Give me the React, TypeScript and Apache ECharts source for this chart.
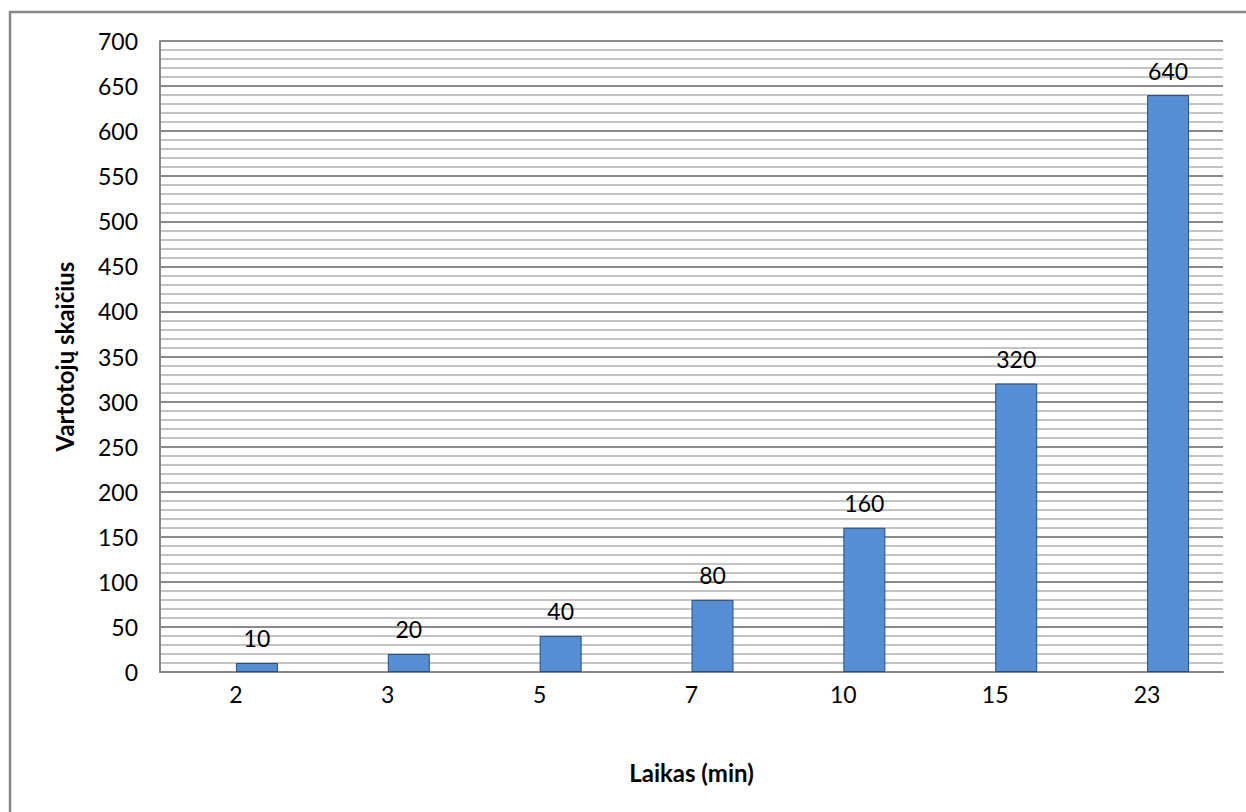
import React, { useEffect, useRef } from "react";
import * as echarts from "echarts";

const categories = ["2", "3", "5", "7", "10", "15", "23"];
const users = [10, 20, 40, 80, 160, 320, 640];
const yTicks = { min: 0, max: 700, interval: 50 };
const xName = "Laikas (min)";
const yName = "Vartotojų skaičius";

const FONT = "Lato, 'Open Sans', sans-serif";

export default function App() {
  const ref = useRef<HTMLDivElement>(null);
  useEffect(() => {
    if (!ref.current) return;
    const chart = echarts.init(ref.current, undefined, { renderer: "svg" });
    chart.setOption({
      animation: false,
      backgroundColor: "#ffffff",
      textStyle: { fontFamily: FONT, color: "#000" },
      graphic: [
        {
          type: "rect",
          shape: { x: 10, y: 12, width: 1300, height: 900 },
          style: { fill: "none", stroke: "#878787", lineWidth: 2.5 },
          silent: true,
          z: -1,
        },
      ],
      grid: { left: 160, right: 23, top: 41, bottom: 140, containLabel: false },
      xAxis: {
        type: "category",
        data: categories,
        name: xName,
        nameLocation: "middle",
        nameGap: 88,
        nameTextStyle: { fontFamily: FONT, fontSize: 24, fontWeight: "bold", color: "#000" },
        axisLine: { lineStyle: { color: "#878787", width: 2 } },
        axisTick: { show: false },
        axisLabel: { fontFamily: FONT, fontSize: 23, color: "#000", margin: 10 },
        splitLine: { show: false },
      },
      yAxis: {
        type: "value",
        min: yTicks.min,
        max: yTicks.max,
        interval: yTicks.interval,
        name: yName,
        nameLocation: "middle",
        nameGap: 84,
        nameTextStyle: { fontFamily: FONT, fontSize: 24, fontWeight: "bold", color: "#000" },
        axisLine: { show: true, lineStyle: { color: "#878787", width: 2 } },
        axisTick: { show: false },
        axisLabel: { fontFamily: FONT, fontSize: 23, color: "#000", margin: 22 },
        splitLine: { show: true, lineStyle: { color: "#8c8c8c", width: 2 } },
        minorTick: { show: false, splitNumber: 5 },
        minorSplitLine: { show: true, lineStyle: { color: "#c4c4c4", width: 2 } },
      },
      series: [
        {
          type: "bar",
          data: categories.map(() => null),
          barWidth: 42,
          barGap: "0%",
        },
        {
          type: "bar",
          data: users,
          barWidth: 42,
          barGap: "0%",
          itemStyle: {
            color: "#558ED5",
            borderColor: "#2c4d78",
            borderWidth: 1,
          },
          label: {
            show: true,
            position: "top",
            distance: 13,
            fontFamily: FONT,
            fontSize: 23,
            color: "#000",
          },
        },
      ],
    });
    return () => chart.dispose();
  }, []);
  return (
    <div
      ref={ref}
      style={{ position: "fixed", left: 0, top: 0, width: 1246, height: 812 }}
    />
  );
}
